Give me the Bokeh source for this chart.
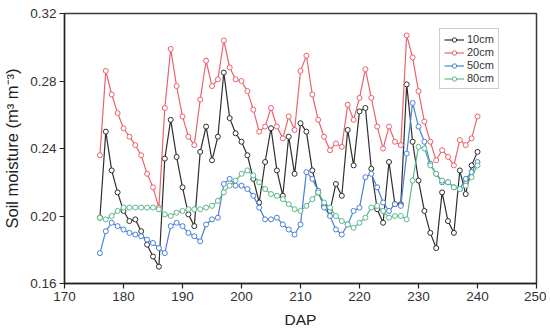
from bokeh.plotting import figure
from bokeh.models import Range1d, FixedTicker, Legend, LegendItem, NumeralTickFormatter
from bokeh.embed import file_html
from bokeh.resources import INLINE

dap = list(range(176, 241))

soil_10cm = [0.199, 0.250, 0.227, 0.214, 0.203, 0.197, 0.198, 0.191, 0.183, 0.176,
             0.170, 0.234, 0.257, 0.235, 0.217, 0.201, 0.194, 0.238, 0.253, 0.233,
             0.247, 0.285, 0.258, 0.249, 0.244, 0.236, 0.222, 0.208, 0.232, 0.252,
             0.227, 0.212, 0.247, 0.225, 0.255, 0.250, 0.227, 0.214, 0.206, 0.203,
             0.219, 0.212, 0.251, 0.230, 0.262, 0.264, 0.228, 0.204, 0.196, 0.232,
             0.207, 0.207, 0.278, 0.244, 0.221, 0.203, 0.190, 0.181, 0.214, 0.197,
             0.190, 0.227, 0.213, 0.230, 0.238]

soil_20cm = [0.236, 0.286, 0.272, 0.261, 0.252, 0.247, 0.242, 0.236, 0.225, 0.217,
             0.205, 0.264, 0.299, 0.277, 0.259, 0.247, 0.242, 0.269, 0.292, 0.277,
             0.281, 0.304, 0.288, 0.281, 0.280, 0.274, 0.263, 0.250, 0.253, 0.264,
             0.253, 0.246, 0.259, 0.251, 0.286, 0.295, 0.272, 0.257, 0.247, 0.239,
             0.243, 0.241, 0.266, 0.257, 0.270, 0.287, 0.270, 0.253, 0.240, 0.253,
             0.244, 0.242, 0.307, 0.294, 0.274, 0.256, 0.244, 0.233, 0.239, 0.235,
             0.230, 0.245, 0.242, 0.246, 0.259]

soil_50cm = [0.178, 0.191, 0.196, 0.194, 0.192, 0.190, 0.189, 0.188, 0.186, 0.184,
             0.181, 0.178, 0.194, 0.196, 0.194, 0.190, 0.188, 0.185, 0.195, 0.198,
             0.199, 0.219, 0.222, 0.218, 0.218, 0.216, 0.212, 0.205, 0.198, 0.198,
             0.199, 0.195, 0.192, 0.189, 0.195, 0.226, 0.222, 0.215, 0.205, 0.200,
             0.192, 0.189, 0.195, 0.203, 0.205, 0.223, 0.225, 0.217, 0.208, 0.203,
             0.207, 0.206, 0.237, 0.267, 0.253, 0.244, 0.231, 0.225, 0.220, 0.220,
             0.217, 0.216, 0.222, 0.226, 0.232]

soil_80cm = [0.199, 0.198, 0.200, 0.203, 0.205, 0.205, 0.205, 0.205, 0.205, 0.205,
             0.204, 0.201, 0.200, 0.202, 0.203, 0.204, 0.204, 0.204, 0.205, 0.206,
             0.209, 0.214, 0.218, 0.221, 0.225, 0.227, 0.224, 0.220, 0.216, 0.213,
             0.212, 0.210, 0.207, 0.204, 0.203, 0.206, 0.210, 0.214, 0.208, 0.205,
             0.200, 0.197, 0.195, 0.193, 0.196, 0.199, 0.205, 0.206, 0.203, 0.199,
             0.200, 0.200, 0.198, 0.221, 0.241, 0.240, 0.230, 0.225, 0.221, 0.220,
             0.217, 0.216, 0.218, 0.223, 0.230]

series_names = ["10cm", "20cm", "50cm", "80cm"]
series_values = [soil_10cm, soil_20cm, soil_50cm, soil_80cm]
series_colors = ["#2e2e2e", "#e8636c", "#4a80d8", "#5cb88c"]

x_ticks = [170, 180, 190, 200, 210, 220, 230, 240, 250]
y_ticks = [0.16, 0.20, 0.24, 0.28, 0.32]

FONT = "Liberation Sans"

p = figure(width=546, height=330, output_backend="svg", toolbar_location=None,
           x_range=Range1d(170, 250), y_range=Range1d(0.16, 0.32),
           min_border_left=60, min_border_right=10, min_border_top=13, min_border_bottom=45)
p.xgrid.visible = False
p.ygrid.visible = False
p.outline_line_color = "#3a3a3a"
p.outline_line_width = 1.5

items = []
for name, vals, col in zip(series_names, series_values, series_colors):
    r1 = p.line(dap, vals, line_color=col, line_width=1.2)
    r2 = p.scatter(dap, vals, marker="circle", size=5, fill_color="white",
                   line_color=col, line_width=1)
    items.append(LegendItem(label=name, renderers=[r1, r2]))

legend = Legend(items=items, location=(375, 194))
legend.label_text_font = FONT
legend.label_text_font_size = "11px"
legend.label_text_color = "#333333"
legend.label_height = 11
legend.glyph_height = 11
legend.glyph_width = 20
legend.spacing = 1
legend.padding = 4
legend.margin = 0
legend.label_standoff = 3
legend.border_line_color = "#999999"
legend.border_line_width = 1
legend.background_fill_alpha = 1
p.add_layout(legend)

for ax in (p.xaxis[0], p.yaxis[0]):
    ax.axis_line_color = "#222222"
    ax.axis_line_width = 1.3
    ax.major_tick_line_color = "#222222"
    ax.major_tick_line_width = 1.2
    ax.major_tick_out = 5
    ax.major_tick_in = 0
    ax.minor_tick_line_color = None
    ax.major_label_text_font = FONT
    ax.major_label_text_font_size = "13.5px"
    ax.major_label_text_color = "#333333"
    ax.axis_label_text_font = FONT
    ax.axis_label_text_font_style = "normal"
    ax.axis_label_text_color = "#222222"

p.xaxis.axis_label_text_font_size = "15.5px"
p.yaxis.axis_label_text_font_size = "16.5px"
p.xaxis.ticker = FixedTicker(ticks=x_ticks)
p.yaxis.ticker = FixedTicker(ticks=y_ticks)
p.yaxis.formatter = NumeralTickFormatter(format="0.00")
p.xaxis.axis_label = "DAP"
p.yaxis.axis_label = "Soil moisture (m³ m⁻³)"
p.xaxis.major_label_standoff = 3
p.yaxis.major_label_standoff = 3
p.xaxis.axis_label_standoff = 7
p.yaxis.axis_label_standoff = 6

open("out.html", "w").write(file_html(p, INLINE))
